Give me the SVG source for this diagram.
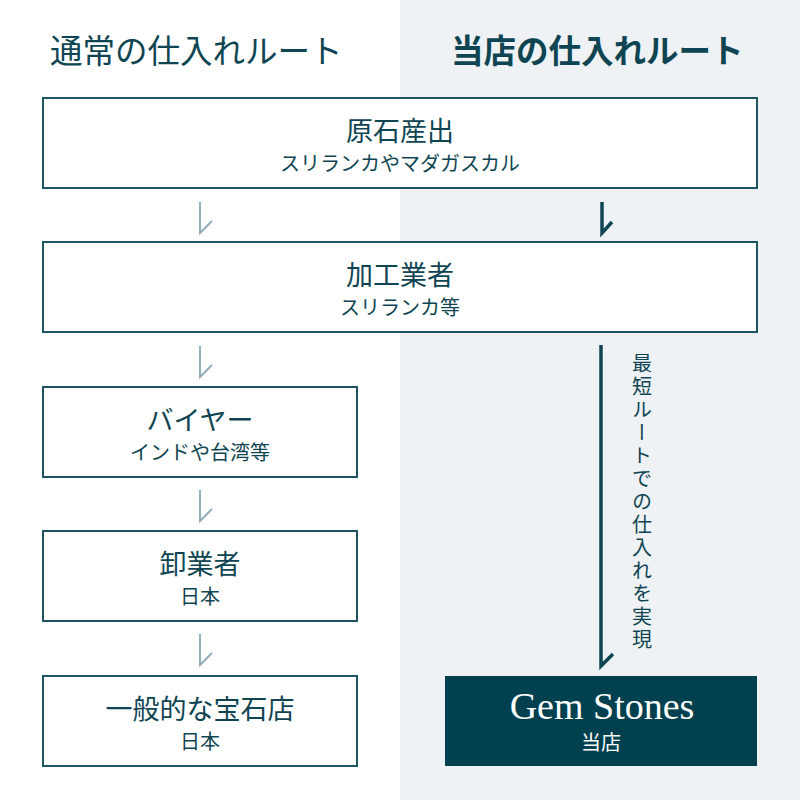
<svg xmlns="http://www.w3.org/2000/svg" width="800" height="800" viewBox="0 0 800 800">
<style>
.bg{fill:#eef2f4}
.box{fill:#ffffff;stroke:#1f5562;stroke-width:2}
.dark{fill:#00404f}
.t{font-family:"Noto Sans CJK JP","Noto Sans",sans-serif;fill:#0f4552;text-anchor:middle}
.main{font-size:27px}
.sub{font-size:20px}
.head{font-family:"Noto Sans CJK JP","Noto Sans",sans-serif;font-size:32.5px;fill:#0f4552}
.w{fill:#ffffff}
.light{fill:none;stroke:#8fb0b8;stroke-width:2}
.strong{fill:none;stroke:#0f4552;stroke-width:3.5}
</style>
<rect class="bg" x="400" y="0" width="400" height="800"/>
<text class="head" x="50" y="63">通常の仕入れルート</text>
<text class="head" x="451" y="63" font-weight="bold">当店の仕入れルート</text>
<g id="n1">
<rect class="box" x="43" y="98" width="714" height="90"/>
<text class="t main" x="400" y="141">原石産出</text>
<text class="t sub" x="400" y="171">スリランカやマダガスカル</text>
</g>
<g id="n2">
<rect class="box" x="43" y="242" width="714" height="90"/>
<text class="t main" x="400" y="285">加工業者</text>
<text class="t sub" x="400" y="315">スリランカ等</text>
</g>
<g id="n3">
<rect class="box" x="43" y="387" width="314" height="90"/>
<text class="t main" x="200" y="430">バイヤー</text>
<text class="t sub" x="200" y="460">インドや台湾等</text>
</g>
<g id="n4">
<rect class="box" x="43" y="531" width="314" height="90"/>
<text class="t main" x="200" y="574">卸業者</text>
<text class="t sub" x="200" y="604">日本</text>
</g>
<g id="n5">
<rect class="box" x="43" y="676" width="314" height="90"/>
<text class="t main" x="200" y="719">一般的な宝石店</text>
<text class="t sub" x="200" y="749">日本</text>
</g>
<g id="n6">
<rect class="dark" x="445" y="676" width="312" height="90"/>
<text x="602" y="719" font-family="Liberation Serif,serif" font-size="38" fill="#ffffff" text-anchor="middle">Gem Stones</text>
<text class="t sub w" x="601" y="750">当店</text>
</g>
<g id="connectors">
<path class="light" d="M200 202V233L212 221"/>
<path class="light" d="M200 346V377L212 365"/>
<path class="light" d="M200 490V521L212 509"/>
<path class="light" d="M200 634V665L212 653"/>
<path class="strong" d="M602 202V233L612 222"/>
<path class="strong" d="M601 345V666L613 654"/>
<text x="642" y="353" font-family="Noto Sans CJK JP,sans-serif" font-size="20" fill="#0f4552" style="writing-mode:vertical-rl" letter-spacing="3">最短ルートでの仕入れを実現</text>
</g>
</svg>
